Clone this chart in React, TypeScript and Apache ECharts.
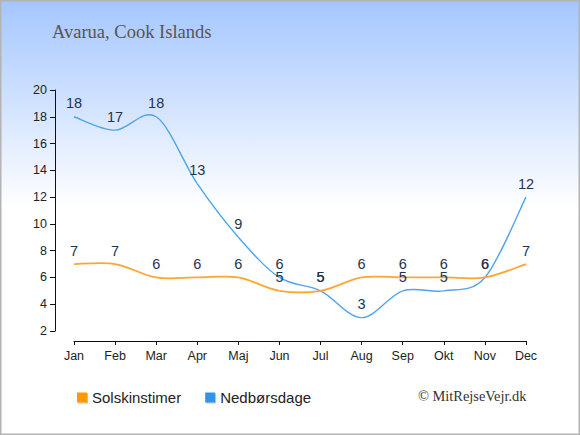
import React, { useEffect, useRef } from "react";
import * as echarts from "echarts";

const months = ["Jan", "Feb", "Mar", "Apr", "Maj", "Jun", "Jul", "Aug", "Sep", "Okt", "Nov", "Dec"];
const sunHours = [7, 7, 6, 6, 6, 5, 5, 6, 6, 6, 6, 7];
const rainDays = [18, 17, 18, 13, 9, 6, 5, 3, 5, 5, 6, 12];
const seriesNames = ["Solskinstimer", "Nedbørsdage"];
const titleText = "Avarua, Cook Islands";
const creditText = "© MitRejseVejr.dk";

const FONT = "Liberation Sans, Arial, sans-serif";
const SERIF = "Liberation Serif, Times New Roman, serif";

function splineSeries(name: string, values: number[], stroke: string, width: number, z: number) {
  return {
    name: name + "-curve",
    type: "custom",
    z,
    silent: true,
    data: values.map((v, i) => [i, v]),
    encode: { x: 0, y: 1 },
    renderItem: (params: any, api: any) => {
      const i = params.dataIndex;
      const n = values.length;
      if (i >= n - 1) return null;
      const pt = (k: number) => {
        const kk = Math.max(0, Math.min(n - 1, k));
        return api.coord([kk, values[kk]]);
      };
      const p0 = pt(i - 1);
      const p1 = pt(i);
      const p2 = pt(i + 1);
      const p3 = pt(i + 2);
      return {
        type: "bezierCurve",
        shape: {
          x1: p1[0],
          y1: p1[1],
          x2: p2[0],
          y2: p2[1],
          cpx1: p1[0] + (p2[0] - p0[0]) / 6,
          cpy1: p1[1] + (p2[1] - p0[1]) / 6,
          cpx2: p2[0] - (p3[0] - p1[0]) / 6,
          cpy2: p2[1] - (p3[1] - p1[1]) / 6,
        },
        style: { stroke, lineWidth: width, fill: "none" },
      };
    },
  };
}

export default function App() {
  const ref = useRef<HTMLDivElement>(null);
  useEffect(() => {
    document.body.style.margin = "0";
    if (!ref.current) return;
    const chart = echarts.init(ref.current, undefined, { renderer: "svg" });
    const labelStyle = {
      show: true,
      position: "top" as const,
      distance: 6,
      color: "#22334f",
      fontSize: 14.5,
      fontFamily: FONT,
    };
    chart.setOption({
      animation: false,
      graphic: [
        {
          type: "rect",
          z: -10,
          silent: true,
          shape: { x: 0, y: 0, width: 580, height: 435 },
          style: {
            fill: new echarts.graphic.LinearGradient(0, 0, 0, 1, [
              { offset: 0, color: "#a4c6ff" },
              { offset: 0.48, color: "#ffffff" },
              { offset: 1, color: "#ffffff" },
            ]),
          },
        },
        {
          type: "rect",
          z: 10,
          silent: true,
          shape: { x: 0.75, y: 0.75, width: 578.5, height: 433.5 },
          style: { fill: "none", stroke: "#b4b4b4", lineWidth: 1.5 },
        },
        {
          type: "text",
          left: 52,
          top: 22,
          style: {
            text: titleText,
            fill: "#555555",
            fontSize: 18.5,
            fontFamily: SERIF,
          },
        },
        {
          type: "text",
          left: 418,
          top: 389,
          style: {
            text: creditText,
            fill: "#333333",
            fontSize: 14.4,
            fontFamily: SERIF,
          },
        },
      ],
      grid: { left: 74, right: 54, top: 90, bottom: 104, containLabel: false },
      legend: {
        left: 77,
        top: 390,
        padding: 0,
        icon: "rect",
        itemWidth: 10,
        itemHeight: 10,
        itemGap: 24,
        data: seriesNames,
        textStyle: { fontSize: 15, color: "#222222", fontFamily: FONT },
        itemStyle: {
          shadowColor: "rgba(0,0,0,0.25)",
          shadowOffsetX: 1,
          shadowOffsetY: 1,
          shadowBlur: 0,
        },
      },
      xAxis: {
        type: "category",
        data: months,
        boundaryGap: false,
        offset: 10,
        axisLine: { lineStyle: { color: "#111111", width: 1 } },
        axisTick: { show: true, length: 4, alignWithLabel: true, lineStyle: { color: "#111111" } },
        axisLabel: { color: "#222222", fontSize: 12.5, margin: 8, fontFamily: FONT },
        splitLine: { show: false },
      },
      yAxis: {
        type: "value",
        min: 2,
        max: 20,
        interval: 2,
        offset: 19,
        axisLine: { show: true, lineStyle: { color: "#111111", width: 1 } },
        axisTick: { show: true, length: 5, lineStyle: { color: "#111111" } },
        axisLabel: { color: "#222222", fontSize: 12.5, margin: 8, fontFamily: FONT },
        splitLine: { show: false },
      },
      series: [
        splineSeries(seriesNames[1], rainDays, "#4ea4ee", 1.4, 2),
        splineSeries(seriesNames[0], sunHours, "#ffa531", 1.8, 3),
        {
          name: seriesNames[0],
          type: "line",
          data: sunHours,
          symbol: "circle",
          symbolSize: 0,
          showSymbol: true,
          itemStyle: { color: "#ff9900" },
          lineStyle: { width: 0, opacity: 0 },
          label: labelStyle,
          z: 4,
        },
        {
          name: seriesNames[1],
          type: "line",
          data: rainDays,
          symbol: "circle",
          symbolSize: 0,
          showSymbol: true,
          itemStyle: { color: "#3394e6" },
          lineStyle: { width: 0, opacity: 0 },
          label: labelStyle,
          z: 4,
        },
      ],
    });
    return () => chart.dispose();
  }, []);
  return <div ref={ref} style={{ width: 580, height: 435 }} />;
}
